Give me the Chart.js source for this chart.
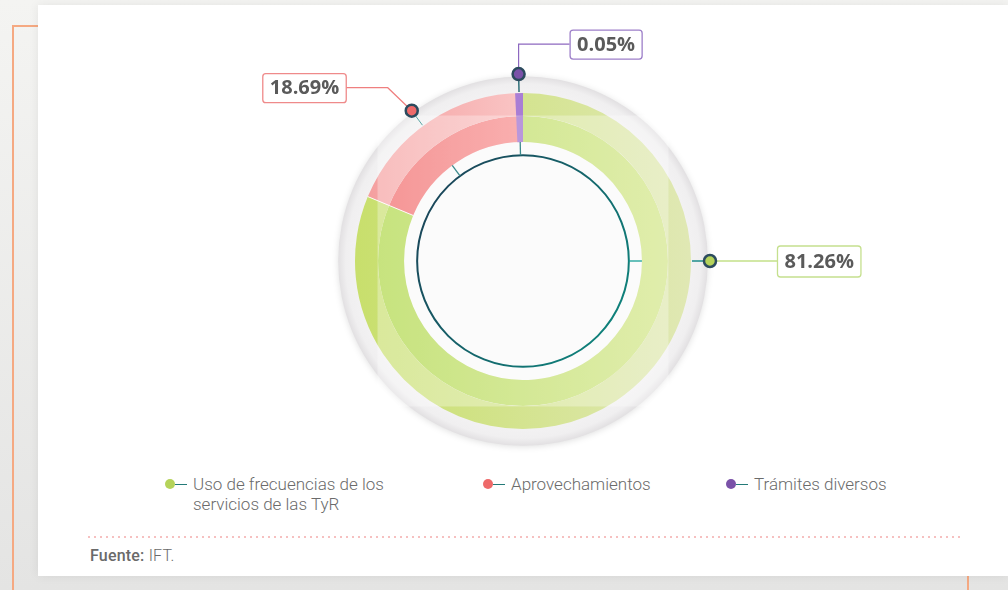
<!DOCTYPE html>
<html lang="es">
<head>
<meta charset="utf-8">
<script src="https://cdn.jsdelivr.net/npm/chart.js@4/dist/chart.umd.min.js"></script>
<style>
  html, body { margin: 0; padding: 0; }
  body {
    width: 1008px; height: 590px; overflow: hidden; position: relative;
    background: linear-gradient(to bottom, #f4f4f2, #e4e4e3);
    font-family: Roboto, sans-serif;
  }
  .marco { position: absolute; left: 12px; top: 25px; width: 953px; height: 600px; border: 2px solid #f5a982; }
  .tarjeta { position: absolute; left: 38px; top: 5px; width: 970px; height: 571px; background: #fff; box-shadow: 0 0 10px rgba(0,0,0,0.07); }
  #grafica { position: absolute; left: 0; top: 0; }
  .item { position: absolute; top: 474px; display: flex; align-items: flex-start; color: #6b6b6b; font-size: 17px; font-weight: 300; line-height: 20px; }
  .punto { width: 10px; height: 10px; border-radius: 50%; margin-top: 5px; flex: none; }
  .linea { width: 12px; height: 1.5px; background: #237a78; margin-top: 9.5px; margin-right: 6px; flex: none; }
  .puntos { position: absolute; left: 88px; top: 536px; width: 876px; height: 2px;
            background-image: repeating-linear-gradient(to right, #f6c0c0 0 2px, transparent 2px 6px); }
  .fuente { position: absolute; left: 90px; top: 547px; font-size: 16px; line-height: 18px; color: #6a6a6a; font-weight: 300; letter-spacing: 0.2px; }
  .fuente b { font-weight: 500; }
</style>
</head>
<body>
<div class="marco"></div>
<div class="tarjeta"><canvas id="grafica" width="970" height="450"></canvas></div>
<div id="leyenda"></div>
<div class="puntos"></div>
<div class="fuente"><b>Fuente:</b> IFT.</div>

<script>
// Datos
const categorias = ['Uso de frecuencias de los servicios de las TyR', 'Aprovechamientos', 'Trámites diversos'];
const porcentajes = [81.26, 18.69, 0.05];
const etiquetas = ['81.26%', '18.69%', '0.05%'];

// colores (izquierda -> derecha) de cada anillo
const coloresExterior = [['#c8df6c', '#e0e8b4'], ['#f49c9c', '#ffeeee'], ['#ab82d6', '#ab82d6']];
const coloresInterior = [['#acd642', '#d6e78e'], ['#f06262', '#fdb8b8'], ['#9a68cc', '#9a68cc']];
const coloresPunto = ['#b5d35a', '#ee6a6a', '#7a52a8'];
const coloresBorde = ['#c5e08e', '#ef8a8a', '#9d7fc9'];
const coloresLinea = ['#a6d24e', '#ef7f7f', '#8d68c0'];

function degradado(c, pares) {
  const area = c.chart.chartArea;
  const par = pares[c.dataIndex];
  if (!area) return par[0];
  const g = c.chart.ctx.createLinearGradient(area.left, 0, area.right, 0);
  g.addColorStop(0, par[0]);
  g.addColorStop(1, par[1]);
  return g;
}

// Leyenda
const leyenda = document.getElementById('leyenda');
const posLeyenda = [165, 483, 726];
categorias.forEach(function(cat, i) {
  const d = document.createElement('div');
  d.className = 'item';
  d.style.left = posLeyenda[i] + 'px';
  d.innerHTML = '<span class="punto" style="background:' + coloresPunto[i] + '"></span><span class="linea"></span>' +
                '<span class="texto"' + (i === 0 ? ' style="width:205px"' : '') + '>' + cat + '</span>';
  leyenda.appendChild(d);
});

// Plugin decorativo
const decor = {
  id: 'decor',
  beforeDatasetsDraw(chart) {
    const ext = chart.getDatasetMeta(0).data[0];
    const int = chart.getDatasetMeta(1).data[0];
    const {x, y, outerRadius} = ext;
    const ctx = chart.ctx;
    ctx.save();
    const rDisco = outerRadius * 1.1;
    ctx.shadowColor = 'rgba(0,0,0,0.12)';
    ctx.shadowBlur = 6;
    ctx.shadowOffsetY = 1;
    const g = ctx.createRadialGradient(x, y, outerRadius * 0.95, x, y, rDisco);
    g.addColorStop(0, '#f4f3f4');
    g.addColorStop(0.7, '#f0eff0');
    g.addColorStop(1, '#e2e0e2');
    ctx.fillStyle = g;
    ctx.beginPath(); ctx.arc(x, y, rDisco, 0, Math.PI * 2); ctx.fill();
    ctx.shadowColor = 'transparent';
    ctx.fillStyle = '#fafafa';
    ctx.beginPath(); ctx.arc(x, y, int.innerRadius, 0, Math.PI * 2); ctx.fill();
    ctx.restore();
  },
  afterDatasetsDraw(chart) {
    const ext = chart.getDatasetMeta(0).data;
    const int = chart.getDatasetMeta(1).data;
    const {x, y, outerRadius} = ext[0];
    const rInt = int[0].innerRadius;
    const ctx = chart.ctx;
    const minAng = 0.047;
    ctx.save();

    // separadores blancos y porciones muy pequeñas
    [ext, int].forEach(function(anillo) {
      anillo.forEach(function(a, i) {
        const ancho = a.endAngle - a.startAngle;
        if (ancho < minAng) {
          ctx.fillStyle = i === 2 ? (anillo === ext ? '#a97ed5' : '#9b6bcc') : coloresPunto[i];
          ctx.beginPath();
          ctx.arc(x, y, a.outerRadius, a.endAngle - minAng, a.endAngle);
          ctx.arc(x, y, a.innerRadius, a.endAngle, a.endAngle - minAng, true);
          ctx.closePath();
          ctx.fill();
        } else if (i > 0) {
          ctx.strokeStyle = 'rgba(255,255,255,0.9)';
          ctx.lineWidth = 1;
          ctx.beginPath();
          ctx.moveTo(x + Math.cos(a.startAngle) * a.innerRadius, y + Math.sin(a.startAngle) * a.innerRadius);
          ctx.lineTo(x + Math.cos(a.startAngle) * a.outerRadius, y + Math.sin(a.startAngle) * a.outerRadius);
          ctx.stroke();
        }
      });
    });

    // velo blanco
    const h = outerRadius * 0.866;
    ctx.fillStyle = 'rgba(255,255,255,0.3)';
    ctx.fillRect(x - h, y - h, 2 * h, 2 * h);

    // circulo oscuro
    const rCirc = rInt * 0.89;
    const gc = ctx.createLinearGradient(x - rCirc, y - rCirc, x + rCirc, y + rCirc * 0.3);
    gc.addColorStop(0, '#1c3d54');
    gc.addColorStop(1, '#0f807a');
    ctx.strokeStyle = gc;
    ctx.lineWidth = 2;
    ctx.beginPath(); ctx.arc(x, y, rCirc, 0, Math.PI * 2); ctx.stroke();

    const rMarca = outerRadius * 1.113;
    const rutas = [
      [[67, 0]],
      [[-24, -23], [-66, -23]],
      [[0, -30], [51, -30]]
    ];
    const lados = ['izq', 'der', 'izq'];

    ext.forEach(function(a, i) {
      let ang;
      if (i === 0) ang = 0;
      else if (a.endAngle - a.startAngle < minAng) ang = a.endAngle - minAng / 2;
      else ang = a.startAngle + 0.46 * (a.endAngle - a.startAngle);
      const cs = Math.cos(ang), sn = Math.sin(ang);
      // marcas interiores
      ctx.strokeStyle = i === 0 ? '#17a096' : '#3c8a8c';
      ctx.lineWidth = 1.3;
      ctx.beginPath();
      ctx.moveTo(x + cs * rCirc, y + sn * rCirc);
      ctx.lineTo(x + cs * rInt, y + sn * rInt);
      ctx.stroke();
      // marcas exteriores
      ctx.strokeStyle = i === 0 ? '#1d8c8a' : (i === 1 ? '#5aa6a4' : '#2f6f78');
      ctx.lineWidth = i === 1 ? 1 : 1.5;
      ctx.beginPath();
      ctx.moveTo(x + cs * (outerRadius + 1), y + sn * (outerRadius + 1));
      ctx.lineTo(x + cs * rMarca, y + sn * rMarca);
      ctx.stroke();

      const mx = x + cs * rMarca, my = y + sn * rMarca;
      // linea de llamada
      ctx.strokeStyle = coloresLinea[i];
      ctx.lineWidth = 1.2;
      ctx.beginPath();
      ctx.moveTo(mx, my);
      rutas[i].forEach(function(p) { ctx.lineTo(mx + p[0], my + p[1]); });
      ctx.stroke();

      // marcador
      ctx.fillStyle = coloresPunto[i];
      ctx.strokeStyle = '#2c4b5e';
      ctx.lineWidth = 2.5;
      ctx.beginPath(); ctx.arc(mx, my, 6, 0, Math.PI * 2); ctx.fill(); ctx.stroke();

      // caja
      const fin = rutas[i][rutas[i].length - 1];
      ctx.font = '700 20px "Open Sans", sans-serif';
      const tw = ctx.measureText(etiquetas[i]).width;
      const bw = tw + 14, bh = i === 0 ? 31 : 29;
      const bx = lados[i] === 'izq' ? mx + fin[0] : mx + fin[0] - bw;
      const by = my + fin[1] - bh / 2;
      ctx.fillStyle = '#fff';
      ctx.strokeStyle = coloresBorde[i];
      ctx.lineWidth = 1.3;
      ctx.beginPath();
      ctx.roundRect(bx + 0.5, by + 0.5, bw, bh, 3);
      ctx.fill(); ctx.stroke();
      ctx.fillStyle = '#5a5a5a';
      ctx.textAlign = 'center';
      ctx.textBaseline = 'middle';
      ctx.fillText(etiquetas[i], bx + bw / 2 + 0.5, by + bh / 2 + 1);
    });
    ctx.restore();
  }
};

new Chart(document.getElementById('grafica'), {
  type: 'doughnut',
  data: {
    labels: categorias,
    datasets: [{
      data: porcentajes,
      backgroundColor: function(c) { return degradado(c, coloresExterior); },
      borderWidth: 0,
      hoverBorderWidth: 0,
      weight: 23
    }, {
      data: porcentajes,
      backgroundColor: function(c) { return degradado(c, coloresInterior); },
      borderWidth: 0,
      hoverBorderWidth: 0,
      weight: 26
    }]
  },
  options: {
    responsive: false,
    animation: false,
    cutout: '70.8%',
    events: [],
    layout: { padding: { left: 317, right: 317, top: 88, bottom: 26 } },
    plugins: { legend: { display: false }, tooltip: { enabled: false } }
  },
  plugins: [decor]
});
</script>
</body>
</html>
